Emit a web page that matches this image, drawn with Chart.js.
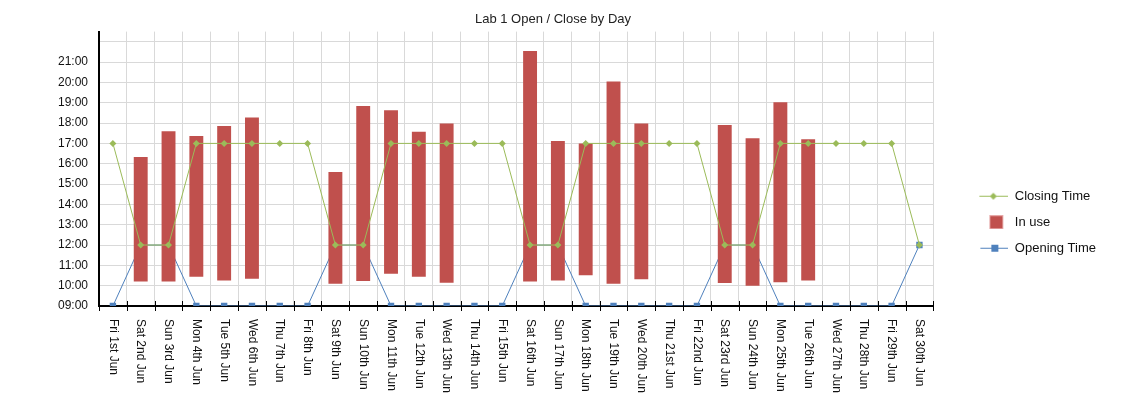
<!DOCTYPE html>
<html>
<head>
<meta charset="utf-8">
<title>Lab 1 Open / Close by Day</title>
<script src="https://cdn.jsdelivr.net/npm/chart.js@4.4.1/dist/chart.umd.min.js"></script>
<style>
  html, body { margin: 0; padding: 0; background: #fff; }
  #wrap { width: 1140px; height: 400px; position: relative; }
</style>
</head>
<body>
<div id="wrap"><canvas id="labChart"></canvas></div>
<script>

// ======================
// DATA
// ======================

const days = [
  "Fri 1st Jun", "Sat 2nd Jun", "Sun 3rd Jun", "Mon 4th Jun", "Tue 5th Jun",
  "Wed 6th Jun", "Thu 7th Jun", "Fri 8th Jun", "Sat 9th Jun", "Sun 10th Jun",
  "Mon 11th Jun", "Tue 12th Jun", "Wed 13th Jun", "Thu 14th Jun", "Fri 15th Jun",
  "Sat 16th Jun", "Sun 17th Jun", "Mon 18th Jun", "Tue 19th Jun", "Wed 20th Jun",
  "Thu 21st Jun", "Fri 22nd Jun", "Sat 23rd Jun", "Sun 24th Jun", "Mon 25th Jun",
  "Tue 26th Jun", "Wed 27th Jun", "Thu 28th Jun", "Fri 29th Jun", "Sat 30th Jun"
];

// hours as decimals (10.25 = 10:15)
const closingTime = [
  17, 12, 12, 17, 17, 17, 17, 17, 12, 12,
  17, 17, 17, 17, 17, 12, 12, 17, 17, 17,
  17, 17, 12, 12, 17, 17, 17, 17, 17, 12
];

const openingTime = [
  9, 12, 12, 9, 9, 9, 9, 9, 12, 12,
  9, 9, 9, 9, 9, 12, 12, 9, 9, 9,
  9, 9, 12, 12, 9, 9, 9, 9, 9, 12
];

const inUseStart = [
  null, 10.2, 10.2, 10.44, 10.25, 10.34, null, null, 10.1, 10.23,
  10.59, 10.44, 10.15, null, null, 10.2, 10.26, 10.51, 10.1, 10.31,
  null, null, 10.13, 10.0, 10.17, 10.26, null, null, null, null
];

const inUseEnd = [
  null, 16.33, 17.6, 17.36, 17.85, 18.28, null, null, 15.59, 18.84,
  18.63, 17.57, 17.98, null, null, 21.54, 17.12, 17.0, 20.05, 17.98,
  null, null, 17.9, 17.25, 19.03, 17.2, null, null, null, null
];

const yMin = 9;
const yMax = 22.5;
const lastLabelledHour = 21;

const inUseBars =
  inUseStart.map(
    (s, i) => (s === null ? null : [s, inUseEnd[i]])
  );

// ======================
// LEGEND ICONS
// ======================

function makeIcon(w, h, draw) {
  const c = document.createElement("canvas");
  c.width = w;
  c.height = h;
  draw(c.getContext("2d"));
  return c;
}

const closingIcon = makeIcon(62, 13, g => {
  g.strokeStyle = "#9bbb59";
  g.lineWidth = 1;
  g.beginPath();
  g.moveTo(33, 6.5);
  g.lineTo(62, 6.5);
  g.stroke();
  g.fillStyle = "#9bbb59";
  g.beginPath();
  g.moveTo(47, 3);
  g.lineTo(50.5, 6.5);
  g.lineTo(47, 10);
  g.lineTo(43.5, 6.5);
  g.closePath();
  g.fill();
});

const inUseIcon = makeIcon(62, 14, g => {
  g.fillStyle = "#e6a9a8";
  g.fillRect(43, 0, 14, 14);
  g.fillStyle = "#c0504d";
  g.fillRect(44, 1, 12, 12);
});

const openingIcon = makeIcon(62, 13, g => {
  g.strokeStyle = "#4f81bd";
  g.lineWidth = 1;
  g.beginPath();
  g.moveTo(34, 6.5);
  g.lineTo(62, 6.5);
  g.stroke();
  g.fillStyle = "#4f81bd";
  g.fillRect(45, 3, 7, 7);
});

const legendIcons = [closingIcon, inUseIcon, openingIcon];

// ======================
// X LABELS (top-to-bottom text) + CROSSING TICKS
// ======================

const xLabelPlugin = {
  id: "xLabelPlugin",
  afterDraw(chart) {
    const xs = chart.scales.x;
    const ctx = chart.ctx;
    const step = xs.getPixelForValue(1) - xs.getPixelForValue(0);

    ctx.save();
    ctx.strokeStyle = "#000";
    ctx.lineWidth = 1;
    ctx.beginPath();
    for (let i = 0; i <= days.length; i++) {
      const x = Math.round(xs.getPixelForValue(i) - step / 2) + 0.5;
      ctx.moveTo(x, xs.top - 5);
      ctx.lineTo(x, xs.top + 5);
    }
    ctx.stroke();

    ctx.font = "12px 'Liberation Sans', Arial, sans-serif";
    ctx.fillStyle = "#111";
    ctx.textAlign = "left";
    ctx.textBaseline = "middle";
    days.forEach((d, i) => {
      ctx.save();
      ctx.translate(xs.getPixelForValue(i), xs.top + 13);
      ctx.rotate(Math.PI / 2);
      ctx.fillText(d, 0, 0);
      ctx.restore();
    });
    ctx.restore();
  }
};

// ======================
// CHART
// ======================

Chart.defaults.font.family = "'Liberation Sans', Arial, sans-serif";
Chart.defaults.color = "#111";

const ctx =
  document
    .getElementById("labChart")
    .getContext("2d");

new Chart(ctx, {

  type: "bar",

  data: {

    labels: days,

    datasets: [

      {
        type: "line",
        label: "Closing Time",
        data: closingTime,
        borderColor: "#9bbb59",
        backgroundColor: "#9bbb59",
        borderWidth: 1,
        tension: 0,
        pointStyle: "rectRot",
        pointRadius: 3.5,
        pointBorderWidth: 0,
        pointBackgroundColor: "#9bbb59",
        order: 1
      },

      {
        type: "bar",
        label: "In use",
        data: inUseBars,
        backgroundColor: "#c0504d",
        borderWidth: 0,
        barPercentage: 0.5,
        categoryPercentage: 1,
        order: 2
      },

      {
        type: "line",
        label: "Opening Time",
        data: openingTime,
        borderColor: "#4f81bd",
        backgroundColor: "#4f81bd",
        borderWidth: 1,
        tension: 0,
        pointStyle: "rect",
        pointRadius: 4.5,
        pointBorderWidth: 0,
        pointBackgroundColor: "#4f81bd",
        order: 3
      }

    ]

  },

  options: {

    responsive: true,
    maintainAspectRatio: false,
    animation: false,
    events: [],

    layout: {
      padding: { left: 0, right: 34, top: 0, bottom: 0 }
    },

    scales: {

      x: {
        type: "category",
        offset: true,
        grid: {
          offset: true,
          color: "#d9d9d9",
          drawTicks: false
        },
        border: { color: "#000", width: 2 },
        ticks: { display: false },
        afterFit: s => { s.height = 94; }
      },

      y: {
        min: yMin,
        max: yMax,
        grid: {
          color: "#d9d9d9",
          drawTicks: false
        },
        border: { color: "#000", width: 2 },
        ticks: {
          stepSize: 1,
          includeBounds: false,
          padding: 11,
          color: "#111",
          font: { size: 12 },
          callback: v =>
            v > lastLabelledHour
              ? ""
              : String(v).padStart(2, "0") + ":00"
        },
        afterFit: s => { s.width = 99; }
      }

    },

    plugins: {

      title: {
        display: true,
        text: "Lab 1 Open / Close by Day",
        color: "#222",
        font: { size: 13, weight: "normal" },
        padding: { top: 12, bottom: 4 }
      },

      legend: {
        position: "right",
        title: {
          display: true,
          text: "",
          padding: { top: 0, bottom: 30 }
        },
        labels: {
          usePointStyle: true,
          pointStyleWidth: 62,
          padding: 13,
          color: "#111",
          font: { size: 13 },
          generateLabels: chart =>
            chart.data.datasets.map((ds, i) => ({
              text: ds.label,
              pointStyle: legendIcons[i],
              datasetIndex: i,
              fontColor: "#111",
              hidden: false,
              lineWidth: 0,
              strokeStyle: "transparent",
              fillStyle: "transparent"
            }))
        }
      },

      tooltip: { enabled: false }

    }

  },

  plugins: [xLabelPlugin]

});

</script>
</body>
</html>
